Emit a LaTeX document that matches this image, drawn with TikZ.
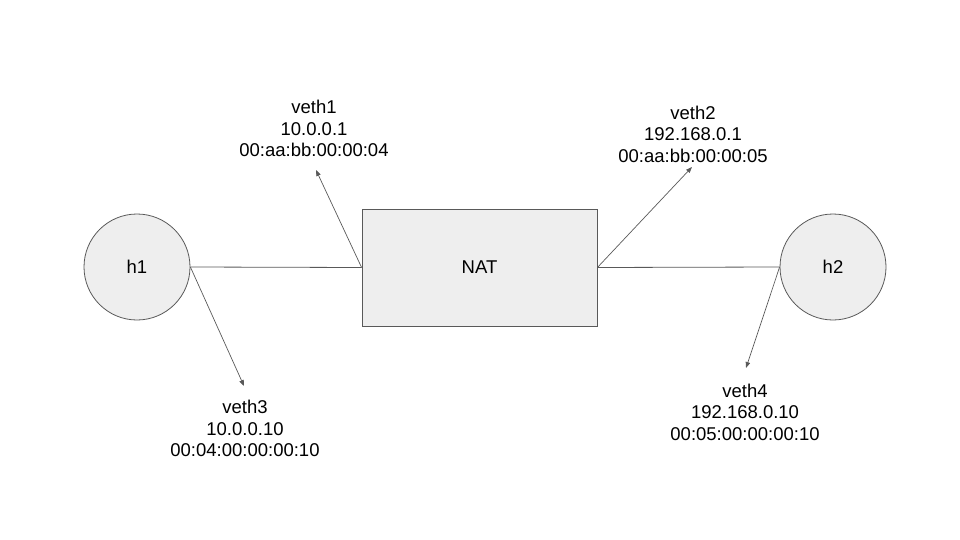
\documentclass[tikz,border=0pt]{standalone}
\usepackage{fontspec}
\setmainfont{Liberation Sans}
\usetikzlibrary{arrows.meta}
\definecolor{shapefill}{HTML}{EEEEEE}
\definecolor{edgecol}{HTML}{595959}
\begin{document}
\begin{tikzpicture}[x=1pt,y=-1pt,
  every node/.style={font=\fontsize{18.5}{21.5}\selectfont},
  host/.style={circle,draw=edgecol,fill=shapefill,minimum size=106pt,inner sep=0pt,line width=0.8pt},
  natbox/.style={rectangle,draw=edgecol,fill=shapefill,minimum width=235pt,minimum height=117pt,line width=0.8pt},
  link/.style={draw=edgecol,line width=0.8pt},
  ptr/.style={draw=edgecol,line width=0.7pt,-{Triangle[length=6pt,width=4.5pt]}},
  lbl/.style={align=center,inner sep=0pt}]
\useasboundingbox (0,0) rectangle (960,540);
\node[host] (h1) at (137,267) {h1};
\node[host] (h2) at (833,267) {h2};
\node[natbox] (nat) at (479.5,267.5) {NAT};
\coordinate (p1) at (316,170);
\coordinate (p2) at (692,167);
\coordinate (p3) at (244,386);
\coordinate (p4) at (746,368);
\draw[link] (h1.east) -- (nat.west);
\draw[link] (nat.east) -- (h2.west);
\draw[ptr] (nat.west) -- (p1);
\draw[ptr] (nat.east) -- (p2);
\draw[ptr] (h1.east) -- (p3);
\draw[ptr] (h2.west) -- (p4);
\node[lbl] (l1) at (314,128.5) {veth1\\10.0.0.1\\00:aa:bb:00:00:04};
\node[lbl] (l2) at (693,134) {veth2\\192.168.0.1\\00:aa:bb:00:00:05};
\node[lbl] (l3) at (245,428.5) {veth3\\10.0.0.10\\00:04:00:00:00:10};
\node[lbl] (l4) at (745,412) {veth4\\192.168.0.10\\00:05:00:00:00:10};
\end{tikzpicture}
\end{document}
